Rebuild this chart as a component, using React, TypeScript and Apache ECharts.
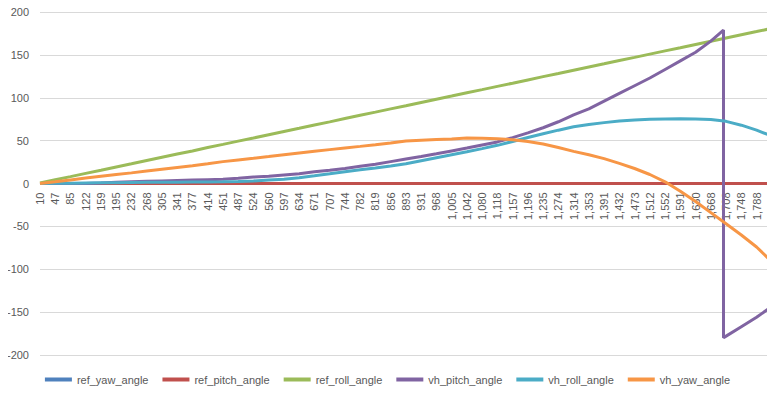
import React, { useEffect, useRef } from "react";
import * as echarts from "echarts";

// Category labels shown on the x axis (one every labelled sample)
const xLabels = [
  "10", "47", "85", "122", "159", "195", "232", "268", "305", "341", "377", "414",
  "451", "487", "524", "560", "597", "634", "671", "707", "744", "782", "819", "856",
  "893", "931", "968", "1,005", "1,042", "1,080", "1,118", "1,157", "1,196", "1,235",
  "1,274", "1,314", "1,353", "1,391", "1,432", "1,473", "1,512", "1,552", "1,591",
  "1,630", "1,668", "1,708", "1,748", "1,788",
];
// position (in label units) of the last sample, after the last label
const lastSamplePos = 47.75;

// Values read at each label position, plus the last sample
const refYaw = [
  0, 0, 0, 0, 0, 0, 0, 0, 0, 0, 0, 0, 0, 0, 0, 0, 0, 0, 0, 0, 0, 0, 0, 0, 0,
  0, 0, 0, 0, 0, 0, 0, 0, 0, 0, 0, 0, 0, 0, 0, 0, 0, 0, 0, 0, 0, 0, 0, 0,
];
const refPitch = [
  0, 0, 0, 0, 0, 0, 0, 0, 0, 0, 0, 0, 0, 0, 0, 0, 0, 0, 0, 0, 0, 0, 0, 0, 0,
  0, 0, 0, 0, 0, 0, 0, 0, 0, 0, 0, 0, 0, 0, 0, 0, 0, 0, 0, 0, 0, 0, 0, 0,
];
const refRoll = [
  0.5, 4.3, 8, 11.8, 15.5, 19.3, 23, 26.8, 30.6, 34.3, 38, 41.9, 45.6, 49.4, 53.1,
  56.9, 60.7, 64.4, 68.2, 71.9, 75.7, 79.5, 83.2, 87, 90.7, 94.5, 98.3, 102, 105.8,
  109.5, 113.3, 117, 120.8, 124.6, 128.3, 132.1, 135.9, 139.6, 143.4, 147.1, 150.9,
  154.7, 158.4, 162.2, 165.9, 169.7, 173.5, 177.2, 180,
];
const vhPitch = [
  0, 0, 0, 0, 0.5, 1.5, 2, 2.5, 3, 3.5, 4, 4.5, 5, 6, 7.5, 8.5, 10, 11.5, 13.6,
  15.5, 17.5, 20, 22.5, 25.5, 28.5, 31.5, 34.7, 38, 41.3, 45, 48.5, 53.5, 59, 65,
  72, 80, 87, 96, 105, 114, 123, 133, 143, 153, 166, -178, -167, -156, -146.5,
];
// the pitch wraps from +180 to -180 between two labels
const vhPitchWrapPos = 44.83;
const vhPitchWrapFrom = 179;
const vhPitchWrapTo = -180;
const vhRoll = [
  0, 0.2, 0.4, 0.6, 0.8, 1, 1.2, 1.4, 1.5, 1.6, 1.7, 1.8, 2, 2.4, 3, 4, 5, 6.8,
  9, 11.3, 13.7, 16, 18.2, 20.5, 23, 26.5, 30, 33.5, 37, 40.7, 44.5, 49, 53.6, 58,
  62.2, 66.2, 68.8, 71, 72.8, 74, 75, 75.3, 75.4, 75.2, 74.6, 72.5, 68, 62.2, 57,
];
const vhYaw = [
  0, 2, 4.2, 6.3, 8.4, 10.4, 12.4, 14.5, 16.6, 18.7, 20.8, 23, 25.5, 27.5, 29.5,
  31.5, 33.5, 35.5, 37.5, 39.5, 41.5, 43.3, 45.2, 47.2, 49.5, 50.5, 51.3, 52, 53,
  52.7, 52.3, 51, 49, 46, 42, 37.5, 33.5, 29, 23.5, 17.5, 10.5, 2, -9, -21, -34,
  -47, -60, -74, -87,
];

const seriesNames = [
  "ref_yaw_angle", "ref_pitch_angle", "ref_roll_angle",
  "vh_pitch_angle", "vh_roll_angle", "vh_yaw_angle",
];
const seriesColors = ["#4F81BD", "#C0504D", "#9BBB59", "#8064A2", "#4BACC6", "#F79646"];

const posOf = (i: number) => (i < xLabels.length ? i : lastSamplePos);
const toPairs = (vals: number[]) => vals.map((v, i) => [posOf(i), v]);

const pitchPairs = () => {
  const out: number[][] = [];
  vhPitch.forEach((v, i) => {
    const p = posOf(i);
    if (p > vhPitchWrapPos && out.length && out[out.length - 1][0] < vhPitchWrapPos) {
      out.push([vhPitchWrapPos, vhPitchWrapFrom]);
      out.push([vhPitchWrapPos, vhPitchWrapTo]);
    }
    out.push([p, v]);
  });
  return out;
};

const FONT = "Liberation Sans";
const CHART_H = 396;
const GRID_TOP = 12;
const GRID_BOTTOM = 41;

export default function App() {
  const ref = useRef<HTMLDivElement>(null);
  useEffect(() => {
    if (!ref.current) return;
    const chart = echarts.init(ref.current, undefined, { renderer: "svg" });
    const datas = [
      toPairs(refYaw), toPairs(refPitch), toPairs(refRoll),
      pitchPairs(), toPairs(vhRoll), toPairs(vhYaw),
    ];
    // move the category axis up to the y = 0 line (half of the symmetric range)
    const zeroOffset = -(CHART_H - GRID_TOP - GRID_BOTTOM) / 2;
    chart.setOption({
      animation: false,
      textStyle: { fontFamily: FONT },
      grid: { left: 40, right: 7, top: GRID_TOP, bottom: GRID_BOTTOM, containLabel: false },
      legend: {
        bottom: 6,
        left: "center",
        data: seriesNames,
        icon: "rect",
        itemWidth: 27,
        itemHeight: 4,
        itemGap: 14,
        textStyle: { fontFamily: FONT, fontSize: 11, color: "#595959" },
      },
      xAxis: {
        type: "value",
        min: 0,
        max: lastSamplePos,
        interval: 1,
        position: "bottom",
        offset: zeroOffset,
        axisLine: { onZero: false, lineStyle: { color: "#D9D9D9" } },
        axisTick: { show: false },
        splitLine: { show: false },
        axisLabel: {
          rotate: 90,
          margin: 9,
          fontSize: 11,
          fontFamily: FONT,
          color: "#595959",
          showMaxLabel: false,
          formatter: (v: number) =>
            Number.isInteger(v) && v < xLabels.length ? xLabels[v] : "",
        },
      },
      yAxis: {
        type: "value",
        min: -200,
        max: 200,
        interval: 50,
        axisLine: { show: false, onZero: false },
        axisTick: { show: false },
        splitLine: { lineStyle: { color: "#D9D9D9", width: 1 } },
        axisLabel: { fontSize: 11, fontFamily: FONT, color: "#595959", margin: 11 },
      },
      series: seriesNames.map((name, k) => ({
        name,
        type: "line",
        data: datas[k],
        showSymbol: false,
        symbol: "none",
        color: seriesColors[k],
        lineStyle: { width: 3, color: seriesColors[k] },
      })),
    });
    return () => chart.dispose();
  }, []);
  return <div ref={ref} style={{ width: 775, height: 396, margin: -8 }} />;
}
